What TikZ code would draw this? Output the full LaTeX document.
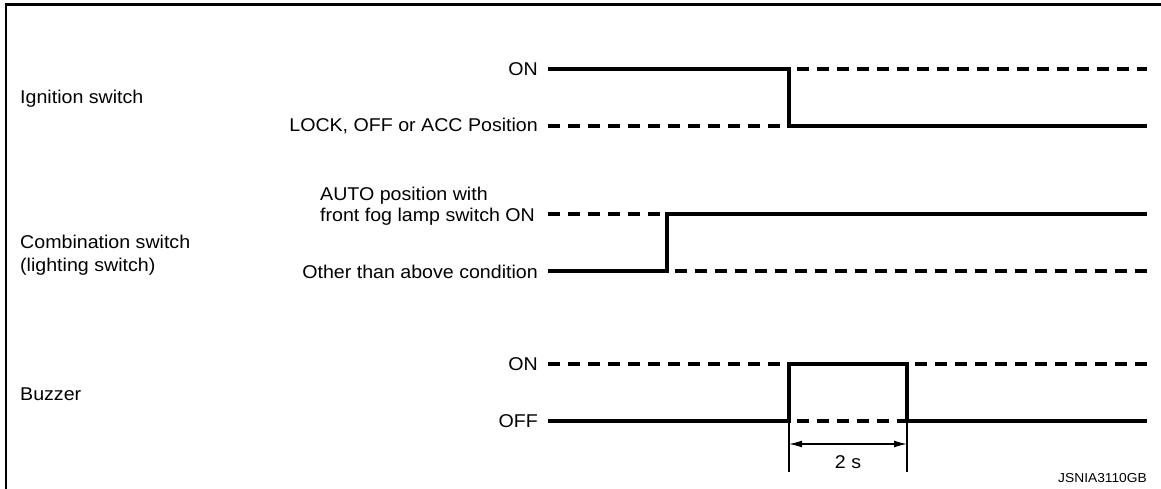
\documentclass[tikz,border=0pt]{standalone}
\usepackage{fontspec}
\setmainfont[FakeStretch=1.06]{Liberation Sans}
\usetikzlibrary{arrows.meta}
\begin{document}
\begin{tikzpicture}[x=1pt,y=-1pt,
  sig/.style={line width=3.2pt, line join=miter},
  dsig/.style={line width=3.2pt, dash pattern=on 12pt off 8pt},
  lbl/.style={font=\fontsize{18.5}{21}\selectfont, inner sep=0pt},
  small/.style={font=\fontsize{13}{15}\selectfont, inner sep=0pt},
  dimline/.style={line width=1.2pt},
  dimarrow/.style={line width=1.3pt, {Latex[length=13pt,width=7pt]}-{Latex[length=13pt,width=7pt]}},
]
\useasboundingbox (0,0) rectangle (1161,489);
% frame
\coordinate (fbl) at (6,489);
\coordinate (ftl) at (6,4.5);
\coordinate (ftr) at (1161,4.5);
\draw[line width=2.6pt] (fbl) -- (ftl) -- (ftr);

% left labels
\node[lbl, anchor=west] (ign) at (20,99) {Ignition switch};
\node[lbl, anchor=west] (comb) at (20,242) {Combination switch};
\node[lbl, anchor=west] (light) at (20,267) {(lighting switch)};
\node[lbl, anchor=west] (buz) at (20,394) {Buzzer};

% state labels
\node[lbl, anchor=east] (ion) at (538,69) {ON};
\node[lbl, anchor=east] (ioff) at (538,126) {LOCK, OFF or ACC Position};
\node[lbl, anchor=west] (auto1) at (320,196) {AUTO position with};
\node[lbl, anchor=west] (auto2) at (320,217) {front fog lamp switch ON};
\node[lbl, anchor=east] (other) at (538,271.5) {Other than above condition};
\node[lbl, anchor=east] (bon) at (538,364) {ON};
\node[lbl, anchor=east] (boff) at (538,421) {OFF};

% ignition switch
\coordinate (i1s) at (548,69);  \coordinate (i1t) at (789,69);  \coordinate (i1d) at (797,69);  \coordinate (i1e) at (1147,69);
\coordinate (i0s) at (548,126); \coordinate (i0t) at (789,126); \coordinate (i0e) at (1147,126);
\draw[sig] (i1s) -- (i1t) -- (i0t) -- (i0e);
\draw[dsig] (i0s) -- (i0t);
\draw[dsig] (i1d) -- (i1e);

% combination switch
\coordinate (c1s) at (548,214); \coordinate (c1t) at (667,214); \coordinate (c1e) at (1147,214);
\coordinate (c0s) at (548,271); \coordinate (c0t) at (667,271); \coordinate (c0d) at (675,271); \coordinate (c0e) at (1147,271);
\draw[sig] (c0s) -- (c0t) -- (c1t) -- (c1e);
\draw[dsig] (c1s) -- (c1t);
\draw[dsig] (c0d) -- (c0e);

% buzzer
\coordinate (b1s) at (548,364); \coordinate (b1a) at (789,364); \coordinate (b1b) at (907,364); \coordinate (b1d) at (915,364); \coordinate (b1e) at (1147,364);
\coordinate (b0s) at (548,421); \coordinate (b0a) at (789,421); \coordinate (b0ad) at (797,421); \coordinate (b0b) at (907,421); \coordinate (b0e) at (1147,421);
\draw[sig] (b0s) -- (b0a) -- (b1a) -- (b1b) -- (b0b) -- (b0e);
\draw[dsig] (b1s) -- (b1a);
\draw[dsig] (b1d) -- (b1e);
\draw[dsig] (b0ad) -- (b0b);

% dimension
\coordinate (da) at (789,472); \coordinate (db) at (907,472);
\coordinate (dal) at (789,444); \coordinate (dbl) at (907,444);
\draw[dimline] (b0a) -- (da);
\draw[dimline] (b0b) -- (db);
\draw[dimarrow] (dal) -- (dbl);
\node[lbl] (two) at (848,462) {2 s};

\node[small, anchor=east] (code) at (1147,478) {JSNIA3110GB};
\end{tikzpicture}
\end{document}
